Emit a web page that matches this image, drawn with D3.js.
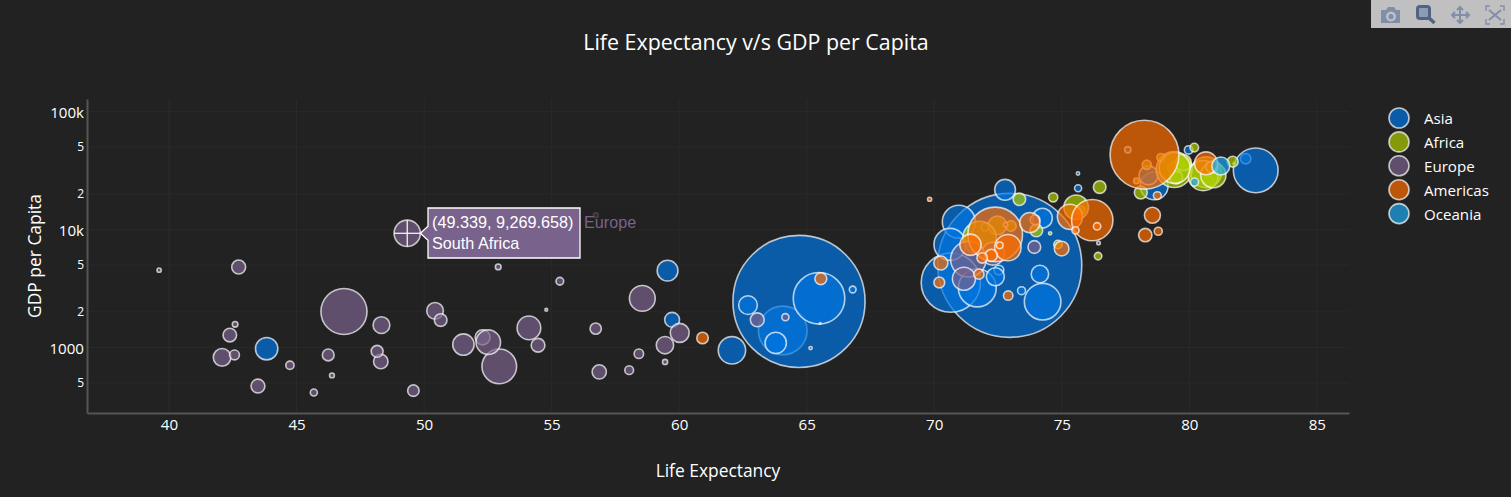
<!DOCTYPE html>
<html>
<head>
<meta charset="utf-8">
<script src="https://d3js.org/d3.v7.min.js"></script>
<style>
  html, body { margin: 0; padding: 0; background: #222222; overflow: hidden; }
  svg { display: block; font-family: "Open Sans", sans-serif; }
  .tick text { fill: #ffffff; }
  .domain { stroke: #555555; stroke-width: 2; }
  .bubble { stroke: #ffffff; stroke-width: 1.6; fill-opacity: 0.7; stroke-opacity: 0.7; }
</style>
</head>
<body>
<svg id="chart" width="1511" height="497"></svg>
<script>
// each row: life expectancy, GDP per capita, population (millions)
const asia = [
  [43.828, 974.58, 31.89], [75.635, 29796.05, 0.708], [64.062, 1391.25, 150.45], [59.723, 1713.78, 14.13],
  [72.961, 4959.11, 1318.68], [82.208, 39724.98, 6.98], [64.698, 2452.21, 1110.4], [70.65, 3540.65, 223.55],
  [70.964, 11605.71, 69.45], [59.545, 4471.06, 27.5], [80.745, 25523.28, 6.43], [82.603, 31656.07, 127.47],
  [72.535, 4519.46, 6.05], [78.623, 23348.14, 49.04], [77.588, 47306.99, 2.51],
  [71.993, 10461.06, 3.92], [74.241, 12451.66, 24.82], [66.803, 3095.77, 2.87], [62.069, 944, 47.76],
  [63.785, 1091.36, 28.9], [75.64, 22316.19, 3.2], [65.483, 2605.63, 169.27], [71.688, 3190.48, 91.08],
  [72.777, 21654.83, 27.6], [79.972, 47143.18, 4.55], [72.396, 3970.1, 20.38], [74.143, 4184.55, 19.31],
  [78.4, 28718.28, 23.17], [70.616, 7458.4, 65.07], [74.249, 2441.58, 85.26], [73.422, 3025.55, 4.02],
  [62.698, 2280.77, 22.21]
];
const africa = [
  [76.423, 5937.03, 3.6], [79.829, 36126.49, 8.2], [79.441, 33692.61, 10.39], [74.852, 7446.3, 4.55],
  [73.005, 10680.79, 7.32], [75.748, 14619.22, 4.49], [76.486, 22833.31, 10.23], [78.332, 35278.42, 5.47],
  [79.313, 33207.08, 5.24], [80.657, 30470.02, 61.08], [79.406, 32170.37, 82.4], [79.483, 27538.41, 10.71],
  [73.338, 18008.94, 9.96], [81.757, 36180.79, 0.3], [78.885, 40676, 4.11], [80.546, 28569.72, 58.15],
  [74.543, 9253.9, 0.68], [79.762, 36797.93, 16.57], [80.196, 49357.19, 4.63], [75.563, 15389.92, 38.52],
  [78.098, 20509.65, 10.64], [72.476, 10808.48, 22.28], [74.002, 9786.53, 10.15], [74.663, 18678.31, 5.45],
  [77.926, 25768.26, 2.01], [80.941, 28821.06, 40.45], [80.884, 33859.75, 9.03], [81.701, 37506.42, 7.55],
  [71.777, 8458.28, 71.16], [79.425, 33203.26, 60.78]
];
const europe = [
  [72.301, 6223.37, 33.33], [42.731, 4797.23, 12.42], [56.728, 1441.28, 8.08], [50.728, 12569.85, 1.64],
  [52.295, 1217.03, 14.33], [49.58, 430.07, 8.39], [50.43, 2042.1, 17.7], [44.741, 706.02, 4.37],
  [50.651, 1704.06, 10.24], [65.152, 986.15, 0.71], [55.322, 3632.56, 3.8], [48.328, 1544.75, 18.01],
  [54.791, 2082.48, 0.5], [71.338, 5581.18, 80.26], [51.579, 12154.09, 0.55], [58.04, 641.37, 4.91],
  [52.947, 690.81, 76.51], [56.735, 13206.48, 1.45], [59.448, 752.75, 1.69], [60.022, 1327.61, 22.87],
  [46.388, 579.23, 1.47], [54.11, 1463.25, 35.61], [42.592, 1569.33, 2.01],
  [45.678, 414.51, 3.19], [73.952, 12057.5, 6.04], [59.443, 1044.77, 19.17], [48.303, 759.35, 13.33],
  [54.467, 1042.58, 12.03], [64.164, 1803.15, 3.27], [72.801, 10956.99, 1.25], [71.164, 3820.18, 33.76],
  [42.082, 823.69, 19.95], [52.906, 4811.06, 2.06], [56.867, 619.68, 12.89], [46.859, 2013.98, 135.03],
  [76.442, 7670.12, 0.8], [46.242, 863.09, 8.86], [65.528, 1598.44, 0.2], [63.062, 1712.06, 12.27],
  [42.568, 862.54, 6.14], [48.159, 926.14, 9.12], [49.339, 9269.658, 43.99], [58.556, 2602.39, 42.29],
  [39.613, 4513.48, 1.13], [52.517, 1107.48, 38.14], [58.42, 882.97, 5.7], [73.923, 7092.92, 10.28],
  [51.542, 1056.38, 29.17], [42.384, 1271.21, 11.75], [43.487, 469.71, 12.31]
];
const americas = [
  [75.32, 12779.38, 40.3], [65.554, 3822.14, 9.12], [72.39, 9065.8, 190.01], [80.653, 36319.24, 33.39],
  [78.553, 13171.64, 16.28], [72.889, 7006.58, 44.23], [78.782, 9645.06, 4.13], [78.273, 8948.98, 11.42],
  [72.235, 6025.37, 9.32], [74.994, 6873.26, 13.76], [71.878, 5728.66, 6.94], [70.259, 5186.05, 12.57],
  [60.916, 1201.64, 8.5], [70.198, 3548.33, 7.48], [72.567, 7320.88, 2.78], [76.195, 11977.57, 108.7],
  [72.899, 2749.32, 5.68], [75.537, 9809.19, 3.24], [71.752, 4172.84, 6.67], [71.421, 7408.91, 28.67],
  [78.746, 19328.71, 3.94], [69.819, 18008.51, 1.06], [78.242, 42951.65, 301.14], [76.384, 10611, 3.45],
  [73.747, 11415.81, 26.08]
];
const oceania = [[81.235, 34435.37, 20.43], [80.204, 25185.01, 4.12]];

const seriesNames = ['Asia', 'Africa', 'Europe', 'Americas', 'Oceania'];
const seriesRows = [asia, africa, europe, americas, oceania];
const seriesColors = ['#0075e1', '#aecd00', '#79628c', '#fe6e00', '#1da8ed'];

const xTicks = [40, 45, 50, 55, 60, 65, 70, 75, 80, 85];
const yTicks = [100000, 50000, 20000, 10000, 5000, 2000, 1000, 500];
const yTickLabels = ['100k', '5', '2', '10k', '5', '2', '1000', '5'];

const hoverRow = [49.339, 9269.658, 43.99];
const hoverLines = ['(49.339, 9,269.658)', 'South Africa'];
const hoverTrace = 'Europe';

const plot = { left: 87, right: 1349, top: 99, bottom: 413 };

const x = d3.scaleLinear().domain([36.785, 86.26]).range([plot.left, plot.right]);
const y = d3.scaleLog().domain([10 ** 2.444, 10 ** 5.105]).range([plot.bottom, plot.top]);
const r = d3.scaleSqrt().domain([0, 1318.68]).range([0, 72]);

const svg = d3.select('#chart');

// grid
svg.append('g').selectAll('line').data(xTicks).join('line')
  .attr('x1', d => x(d)).attr('x2', d => x(d))
  .attr('y1', plot.top).attr('y2', plot.bottom)
  .attr('stroke', '#2a2a2a');
svg.append('g').selectAll('line').data(yTicks).join('line')
  .attr('x1', plot.left).attr('x2', plot.right)
  .attr('y1', d => y(d)).attr('y2', d => y(d))
  .attr('stroke', '#2a2a2a');

// axes, no tick marks, labels only
const xAxis = svg.append('g')
  .attr('transform', `translate(0,${plot.bottom})`)
  .call(d3.axisBottom(x).tickValues(xTicks).tickSize(0).tickPadding(6).tickSizeOuter(0));
xAxis.selectAll('text').attr('font-size', 15.12).attr('font-family', '"Open Sans", sans-serif');

const yAxis = svg.append('g')
  .attr('transform', `translate(${plot.left},0)`)
  .call(d3.axisLeft(y).tickValues(yTicks).tickSize(0).tickPadding(3).tickSizeOuter(0)
    .tickFormat((d, i) => yTickLabels[i]));
yAxis.selectAll('text')
  .attr('font-family', '"Open Sans", sans-serif')
  .attr('font-size', (d, i) => yTickLabels[i].length > 1 ? 15.12 : 12)
  .attr('y', (d, i) => yTickLabels[i].length > 1 ? 1.5 : 0);

// bubbles in trace order, so later traces sit on top
seriesRows.forEach((rows, i) => {
  svg.append('g').selectAll('circle').data(rows).join('circle')
    .attr('class', 'bubble')
    .attr('cx', d => x(d[0]))
    .attr('cy', d => y(d[1]))
    .attr('r', d => r(d[2]))
    .attr('fill', seriesColors[i]);
});

// titles
svg.append('text').attr('x', 756).attr('y', 50).attr('text-anchor', 'middle')
  .attr('fill', '#fff').attr('font-size', 21.4).text('Life Expectancy v/s GDP per Capita');
svg.append('text').attr('x', 718).attr('y', 477).attr('text-anchor', 'middle')
  .attr('fill', '#fff').attr('font-size', 17.4).text('Life Expectancy');
svg.append('text').attr('transform', 'translate(41,256) rotate(-90)').attr('text-anchor', 'middle')
  .attr('fill', '#fff').attr('font-size', 17.4).text('GDP per Capita');

// legend
const legend = svg.append('g').selectAll('g').data(seriesNames).join('g')
  .attr('transform', (d, i) => `translate(1399,${118 + i * 23.9})`);
legend.append('circle').attr('class', 'bubble').attr('r', 10)
  .attr('fill', (d, i) => seriesColors[i]);
legend.append('text').attr('x', 25).attr('y', 6).attr('fill', '#fff')
  .attr('font-size', 15.12).text(d => d);

// hover label for South Africa
const hx = x(hoverRow[0]), hy = y(hoverRow[1]), hr = r(hoverRow[2]);
const hover = svg.append('g').attr('font-family', '"Liberation Sans", Arial, sans-serif').attr('font-size', 16.2);
hover.append('line').attr('x1', hx - hr).attr('x2', hx + hr).attr('y1', hy).attr('y2', hy)
  .attr('stroke', '#fff').attr('stroke-width', 1.2);
hover.append('line').attr('x1', hx).attr('x2', hx).attr('y1', hy - hr).attr('y2', hy + hr)
  .attr('stroke', '#fff').attr('stroke-width', 1.2);
hover.append('rect').attr('x', 580).attr('y', 208).attr('width', 59).attr('height', 30)
  .attr('fill', '#222222').attr('fill-opacity', 0.8);
hover.append('path')
  .attr('d', `M${hx + hr},${hy} L428,${hy - 7} V208 H580 V258 H428 V${hy + 7} Z`)
  .attr('fill', seriesColors[2]).attr('stroke', '#fff').attr('stroke-width', 1.3);
hover.append('text').attr('x', 432).attr('y', 228).attr('fill', '#fff').text(hoverLines[0]);
hover.append('text').attr('x', 432).attr('y', 249).attr('fill', '#fff').text(hoverLines[1]);
hover.append('text').attr('x', 584).attr('y', 228).attr('fill', seriesColors[2]).text(hoverTrace);

// modebar
const bar = svg.append('g').attr('transform', 'translate(1371,0)');
bar.append('rect').attr('width', 140).attr('height', 28).attr('fill', '#c0c0c0');
// camera
bar.append('path').attr('fill', '#7f8fab').attr('fill-rule', 'evenodd')
  .attr('d', 'M10,10 h5 l2,-3 h6 l2,3 h4 v13 h-19 Z M20,11.5 a5,5 0 1,0 0.01,0 Z M20,14 a2.6,2.6 0 1,1 -0.01,0 Z');
// zoom, active
bar.append('path').attr('fill', '#8e9bb4').attr('stroke', '#506384').attr('stroke-width', 3)
  .attr('d', 'M49,6.5 h7 a2.5,2.5 0 0 1 2.5,2.5 v7 a2.5,2.5 0 0 1 -2.5,2.5 h-7 a2.5,2.5 0 0 1 -2.5,-2.5 v-7 a2.5,2.5 0 0 1 2.5,-2.5 Z');
bar.append('path').attr('stroke', '#506384').attr('stroke-width', 3.4)
  .attr('d', 'M58,18 l5.5,5');
// pan
bar.append('path').attr('fill', 'none').attr('stroke', '#7f8fab').attr('stroke-width', 2)
  .attr('d', 'M89,7 v16 M81,15 h17 M86,10 l3,-3 l3,3 M86,20 l3,3 l3,-3 M84,12 l-3,3 l3,3 M95,12 l3,3 l-3,3');
// autoscale
bar.append('path').attr('fill', 'none').attr('stroke', '#7f8fab').attr('stroke-width', 1.4)
  .attr('d', 'M119,6 h-4 v5 M129,6 h4 v5 M119,24 h-4 v-5 M129,24 h4 v-5');
bar.append('path').attr('fill', 'none').attr('stroke', '#7f8fab').attr('stroke-width', 2)
  .attr('d', 'M118,10 l12,10 M130,10 l-12,10');
</script>
</body>
</html>
